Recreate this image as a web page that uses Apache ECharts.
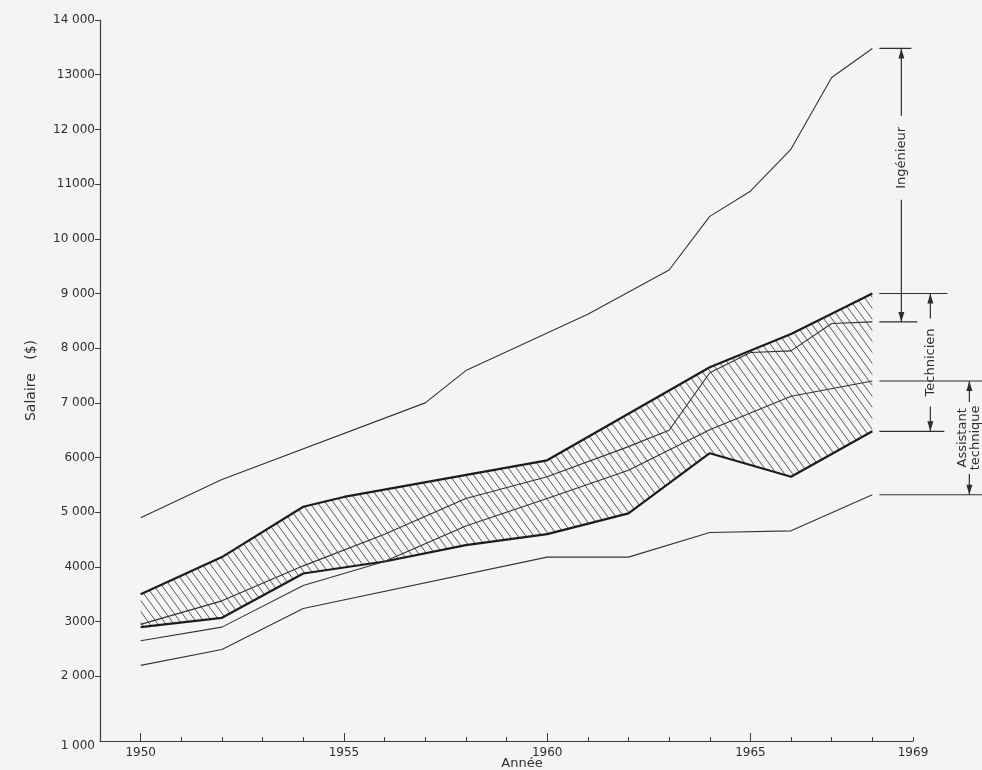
<!DOCTYPE html>
<html><head><meta charset="utf-8">
<script src="https://cdn.jsdelivr.net/npm/echarts@6/dist/echarts.min.js"></script>
<style>html,body{margin:0;padding:0;background:#f4f4f3;}#c{width:982px;height:770px;}</style>
</head><body><div id="c"></div>
<script>
// ---- data (year, salary $) ----
const ingenieurMax = [[1950,4900],[1952,5600],[1957,7000],[1958,7590],[1961,8620],[1963,9430],[1964,10410],[1965,10870],[1966,11640],[1967,12950],[1968,13480]];
const ingenieurMin = [[1950,2950],[1952,3380],[1954,4020],[1956,4600],[1958,5250],[1960,5650],[1962,6200],[1963,6500],[1964,7550],[1965,7920],[1966,7950],[1967,8450],[1968,8480]];
const technicienMax = [[1950,3500],[1952,4180],[1954,5100],[1955,5280],[1960,5950],[1964,7650],[1966,8260],[1968,9000]];
const technicienMin = [[1950,2900],[1952,3070],[1954,3880],[1956,4100],[1958,4400],[1960,4600],[1962,4980],[1964,6080],[1966,5650],[1968,6480]];
const assistantMax = [[1950,2650],[1952,2900],[1954,3660],[1956,4100],[1958,4750],[1960,5250],[1962,5770],[1964,6510],[1966,7120],[1968,7400]];
const assistantMin = [[1950,2200],[1952,2490],[1954,3240],[1960,4180],[1962,4180],[1964,4630],[1966,4660],[1968,5320]];

const yTickValues = [1000,2000,3000,4000,5000,6000,7000,8000,9000,10000,11000,12000,13000,14000];
const yTickLabels = ['1 000','2 000','3000','4000','5 000','6000','7 000','8 000','9 000','10 000','11000','12 000','13000','14 000'];
const xTickLabels = ['1950','1955','1960','1965','1969'];
const xMajorTicks = ['1950','1955','1960','1965'];
const bracketLabels = ['Ingénieur','Technicien','Assistant\ntechnique'];
const bracketPairs = [[ingenieurMax, ingenieurMin],[technicienMax, technicienMin],[assistantMax, assistantMin]];

// ---- derived ----
const yearCats = [];
for (let y = 1949; y <= 1969; y++) yearCats.push(String(y));
const last = a => a[a.length - 1];
const bracketData = bracketPairs.map(([hi, lo]) => [last(hi)[0], last(hi)[1], last(lo)[1]]);
const yShown = yTickValues.slice(1);               // 1 000 sits on the corner, drawn separately
const yLabelOf = v => yTickLabels[yTickValues.indexOf(v)] || '';

// hatch pattern
const pc = document.createElement('canvas');
const PW = 8, PH = 11;
pc.width = PW; pc.height = PH;
const pctx = pc.getContext('2d');
pctx.strokeStyle = '#3c3c3c'; pctx.lineWidth = 0.85;
for (let k = -1; k <= 1; k++) {
  pctx.beginPath();
  pctx.moveTo(k * PW - PW * 0.2, -PH * 0.2);
  pctx.lineTo(k * PW + PW * 1.2, PH * 1.2);
  pctx.stroke();
}
const hatch = { type: 'pattern', image: pc, repeat: 'repeat' };

const FONT = 'DejaVu Sans';
const INK = '#2e2e2e';
const bracketLayout = [
  { vx: 29, hiEnd: 39, loEnd: 45, frac: 0.40, half: 42 },
  { vx: 58, hiEnd: 75, loEnd: 72, frac: 0.5, half: 44 },
  { vx: 97, hiEnd: 110, loEnd: 110, frac: 0.5, half: 36 }
];

const thin = { color: '#333', width: 1.1 };
const thick = { color: '#1c1c1c', width: 2.2 };
function lineSeries(name, data, style) {
  return { name, type: 'line', data, xAxisIndex: 0, yAxisIndex: 0, showSymbol: false, symbol: 'none',
    lineStyle: style, z: 3, silent: true, animation: false };
}

const chart = echarts.init(document.getElementById('c'));
chart.setOption({
  backgroundColor: '#f4f4f3',
  animation: false,
  grid: { left: 100, right: 69, top: 20, bottom: 29, containLabel: false },
  xAxis: [
    { type: 'value', min: 1949, max: 1969, position: 'bottom',
      axisLine: { show: true, lineStyle: { color: '#3a3a3a', width: 1.2 } },
      axisTick: { show: false }, axisLabel: { show: false }, splitLine: { show: false } },
    { type: 'category', data: yearCats, boundaryGap: false, position: 'bottom',
      axisLine: { show: false },
      axisTick: { show: true, inside: true, length: 4, lineStyle: { color: '#3a3a3a' },
        interval: (i, v) => v !== '1949' },
      axisLabel: { interval: (i, v) => xTickLabels.includes(v), margin: 6,
        fontFamily: FONT, fontSize: 12, color: INK },
      splitLine: { show: false } },
    { type: 'category', data: yearCats, boundaryGap: false, position: 'bottom',
      axisLine: { show: false },
      axisTick: { show: true, inside: true, length: 8, lineStyle: { color: '#3a3a3a' },
        interval: (i, v) => xMajorTicks.includes(v) },
      axisLabel: { show: false }, splitLine: { show: false } }
  ],
  yAxis: {
    type: 'value', min: 818, max: 14000,
    name: 'Salaire   ($)', nameLocation: 'middle', nameGap: 62, nameRotate: 90,
    nameTextStyle: { fontFamily: FONT, fontSize: 14, color: INK },
    axisLine: { show: true, lineStyle: { color: '#3a3a3a', width: 1.2 } },
    axisTick: { show: true, inside: false, length: 5, lineStyle: { color: '#3a3a3a' }, customValues: yShown },
    axisLabel: { margin: 5, fontFamily: FONT, fontSize: 12, color: INK,
      customValues: yShown, formatter: v => yLabelOf(v) },
    splitLine: { show: false }
  },
  graphic: [
    { type: 'text', x: 522, y: 764, style: { text: 'Année', font: '13px ' + FONT, fill: INK, align: 'center', verticalAlign: 'middle' } },
    { type: 'text', x: 95, y: 746, style: { text: yTickLabels[0], font: '12px ' + FONT, fill: INK, align: 'right', verticalAlign: 'middle' } }
  ],
  series: [
    { type: 'custom', name: 'band', xAxisIndex: 0, yAxisIndex: 0, z: 1, silent: true, clip: false,
      data: [technicienMax[0]],
      renderItem: (params, api) => {
        const pts = technicienMax.map(p => api.coord(p))
          .concat(technicienMin.slice().reverse().map(p => api.coord(p)));
        return { type: 'polygon', shape: { points: pts }, style: { fill: hatch, stroke: null } };
      } },
    lineSeries('Ingénieur max', ingenieurMax, thin),
    lineSeries('Ingénieur min', ingenieurMin, thin),
    lineSeries('Technicien max', technicienMax, thick),
    lineSeries('Technicien min', technicienMin, thick),
    lineSeries('Assistant max', assistantMax, thin),
    lineSeries('Assistant min', assistantMin, thin),
    { type: 'custom', name: 'brackets', xAxisIndex: 0, yAxisIndex: 0, z: 4, silent: true, clip: false,
      data: bracketData,
      renderItem: (params, api) => {
        const i = params.dataIndex, L = bracketLayout[i];
        const x0 = api.value(0);
        const pHi = api.coord([x0, api.value(1)]);
        const pLo = api.coord([x0, api.value(2)]);
        const bx = pHi[0], vx = bx + L.vx, yHi = pHi[1], yLo = pLo[1];
        const ls = { stroke: INK, lineWidth: 1.2 };
        const yc = yHi + (yLo - yHi) * L.frac;
        return { type: 'group', children: [
          { type: 'line', shape: { x1: bx + 7, y1: yHi, x2: bx + L.hiEnd, y2: yHi }, style: ls },
          { type: 'line', shape: { x1: bx + 7, y1: yLo, x2: bx + L.loEnd, y2: yLo }, style: ls },
          { type: 'line', shape: { x1: vx, y1: yHi, x2: vx, y2: yc - L.half }, style: ls },
          { type: 'line', shape: { x1: vx, y1: yc + L.half, x2: vx, y2: yLo }, style: ls },
          { type: 'polygon', shape: { points: [[vx, yHi], [vx - 3, yHi + 10], [vx + 3, yHi + 10]] }, style: { fill: INK } },
          { type: 'polygon', shape: { points: [[vx, yLo], [vx - 3, yLo - 10], [vx + 3, yLo - 10]] }, style: { fill: INK } },
          { type: 'text', x: vx, y: yc, rotation: Math.PI / 2,
            style: { text: bracketLabels[i], align: 'center', verticalAlign: 'middle',
              font: '13px ' + FONT, fill: INK, lineHeight: 13 } }
        ] };
      } }
  ]
});
</script>
</body></html>
